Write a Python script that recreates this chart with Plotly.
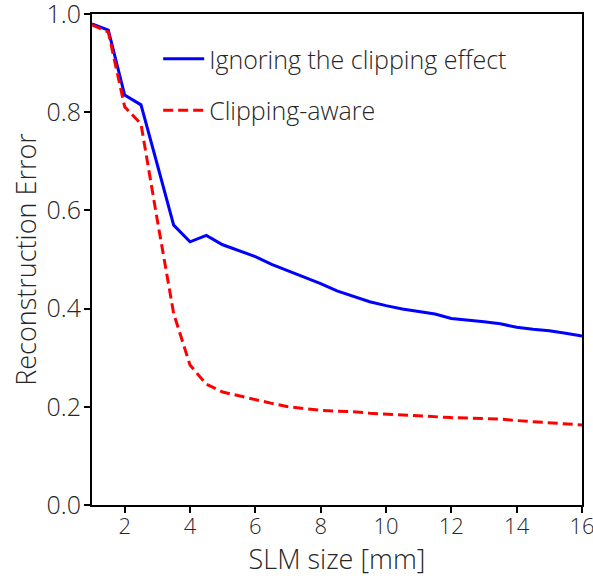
import plotly.graph_objects as go

slm_size = [1.0, 1.5, 2.0, 2.5, 3.0, 3.5, 4.0, 4.5, 5.0, 5.5, 6.0, 6.5, 7.0, 7.5, 8.0, 8.5,
            9.0, 9.5, 10.0, 10.5, 11.0, 11.5, 12.0, 12.5, 13.0, 13.5, 14.0, 14.5, 15.0, 15.5, 16.0]
ignoring = [0.980, 0.967, 0.835, 0.815, 0.693, 0.570, 0.536, 0.549, 0.530, 0.518, 0.506, 0.490,
            0.477, 0.465, 0.451, 0.436, 0.425, 0.414, 0.406, 0.399, 0.394, 0.389, 0.380, 0.377,
            0.373, 0.369, 0.362, 0.358, 0.355, 0.350, 0.344]
aware = [0.978, 0.963, 0.811, 0.776, 0.580, 0.390, 0.285, 0.246, 0.230, 0.222, 0.214, 0.207,
         0.200, 0.196, 0.193, 0.191, 0.190, 0.187, 0.185, 0.184, 0.182, 0.180, 0.178, 0.177,
         0.176, 0.175, 0.172, 0.170, 0.168, 0.166, 0.163]
x_ticks = [2, 4, 6, 8, 10, 12, 14, 16]
y_ticks = [0.0, 0.2, 0.4, 0.6, 0.8, 1.0]

FONT = "Open Sans"
TXT = "#262626"
fig = go.Figure()
fig.add_trace(go.Scatter(x=slm_size, y=ignoring, mode="lines", name="Ignoring the clipping effect",
                         legendgroup="a", line=dict(color="#0000ff", width=3)))
fig.add_trace(go.Scatter(x=slm_size, y=aware, mode="lines", name="Clipping-aware",
                         legendgroup="b", line=dict(color="#ff0000", width=3, dash="10px,5px")))

axis_common = dict(showline=True, linecolor="black", linewidth=2, mirror=True, ticks="outside",
                   ticklen=6, tickwidth=1.5, tickcolor="black", showgrid=False, zeroline=False,
                   ticklabeloverflow="allow",
                   title_font=dict(family=FONT, size=27, color=TXT, weight=300))
fig.update_xaxes(range=[1, 16], tickvals=x_ticks, title_text="SLM size [mm]", automargin="bottom",
                 tickfont=dict(family=FONT, size=22, color=TXT, weight=300),
                 ticklabelstandoff=-5, title_standoff=7, **axis_common)
fig.update_yaxes(range=[0, 1], tickvals=y_ticks, tickformat=".1f", automargin="left",
                 tickfont=dict(family=FONT, size=25, color=TXT, weight=300),
                 ticklabelstandoff=-2, title_standoff=2, **axis_common)
fig.update_yaxes(title_text="Reconstruction Error")

fig.update_layout(
    width=593, height=579,
    margin=dict(l=92, r=11, t=14, b=74),
    plot_bgcolor="white", paper_bgcolor="white",
    legend=dict(x=0.135, y=0.955, xanchor="left", yanchor="top", bgcolor="rgba(0,0,0,0)",
                traceorder="grouped", tracegroupgap=16, itemwidth=41,
                font=dict(family=FONT, size=25, color=TXT, weight=300)),
)
fig.write_html("out.html")
